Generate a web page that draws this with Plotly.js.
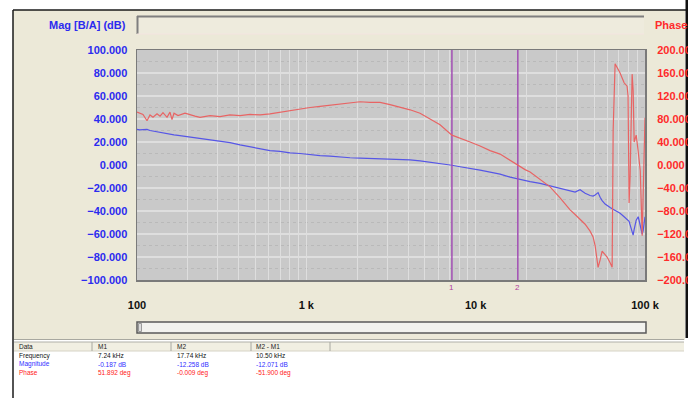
<!DOCTYPE html>
<html>
<head>
<meta charset="utf-8">
<script src="https://cdn.plot.ly/plotly-3.0.1.min.js"></script>
<style>html,body{margin:0;padding:0;background:#fff;}#chart{width:688px;height:398px;}</style>
</head>
<body>
<div id="chart"></div>
<script>
// ---- data ----
const freqHz = [100,104,108.5,114.6,119.3,124.3,131.3,136.8,142.4,150.4,
  156.6,160.9,165.4,174.6,192.1,220,235.6,270,309,354,
  406,465,533,610,699,801,918,1052,1205,1380,
  1581,1812,2076,2378,2724,3121,3575,4097,4694,5378,
  6161,7240,8090,9267,10617,12164,13936,15966,17740,19580,
  20960,24010,27510,31510,36110,38650,41360,44290,47390,49370,
  50730,52840,54330,55820,58130,59700,62230,63970,64860,66590,
  71270,75270,78400,79430,80540,81660,83950,85110,86300,88720,
  91200,93760,96250,97510,100000];
const magDb = [31,30.5,30.8,31,30,29.5,28.5,28,27.5,27,
  26.8,26.5,26.2,25.8,25,23.5,23,22,21,19.5,
  17.5,16,14.5,12.5,11.8,10.5,10,8.8,8.2,7.8,
  6.8,6.3,6,5.8,5.5,5.5,5,4.5,3.5,2.5,
  1,-0.19,-1.5,-2.8,-4.5,-6.2,-8,-10.5,-12.26,-13.5,
  -14.5,-16,-18,-20,-22.5,-23.5,-21.5,-24.5,-26.5,-27,
  -26,-24,-28,-31,-34,-35.5,-37,-38,-38.5,-39.5,
  -42,-45,-47.5,-48,-49,-52,-58,-61,-56,-48,
  -45,-53,-60,-57,-45];
const phaseDeg = [92,90,88,77,87,83,89,85,91,83,
  92,79,90,86,90,85,83,86,84,87,
  86,88,87,89,92,94,97,100,102,104,
  106,108,110,109,109,105,101,96,90,80,
  70,51.89,46,40,33,25,19,8,-0.01,-8,
  -12,-25,-38,-57,-78,-86,-95,-103,-115,-125,
  -140,-178,-165,-150,-156,-160,-170,-178,60,176,
  160,143,137,120,-66,-20,158,130,40,52,
  23,-10,-123,-40,82];
const markerFreqs = [7240, 17740];
const markerNames = ['1', '2'];
const xTickVals = [100,200,300,400,500,600,700,800,900,1000,2000,3000,4000,5000,6000,7000,8000,9000,
  10000,20000,30000,40000,50000,60000,70000,80000,90000,100000];
const xTickText = ['100','','','','','','','','','1 k','','','','','','','','','10 k','','','','','','','','','100 k'];
const magAxisTitle = 'Mag [B/A] (dB)';
const phaseAxisTitle = 'Phase';
const tableHeader = ['Data', 'M1', 'M2', 'M2 - M1'];
const rowFrequency = ['Frequency', '7.24 kHz', '17.74 kHz', '10.50 kHz'];
const rowMagnitude = ['Magnitude', '-0.187 dB', '-12.258 dB', '-12.071 dB'];
const rowPhase = ['Phase', '51.892 deg', '-0.009 deg', '-51.900 deg'];

// ---- layout geometry (pixels) ----
const L = 137, R = 645, T = 50, B = 280, W = 688, H = 398;
const px = p => (p - L) / (R - L);
const py = p => (B - p) / (B - T);
const FONT = 'Liberation Sans, Arial, sans-serif';
const BLUE = '#2b2bef', RED = '#ff2b2b';

function rect(x0, y0, x1, y1, fill, line, lw) {
  return {type:'rect', xref:'paper', yref:'paper', layer:'below',
    x0:px(x0), x1:px(x1), y0:py(y1), y1:py(y0),
    fillcolor:fill, line:{color:line||'rgba(0,0,0,0)', width:lw||0}};
}
function seg(x0, y0, x1, y1, color, w) {
  return {type:'line', xref:'paper', yref:'paper', layer:'below',
    x0:px(x0), x1:px(x1), y0:py(y0), y1:py(y1), line:{color:color, width:w}};
}

const shapes = [
  rect(13, 10, 685, 340, '#ECE9D8'),
  {type:'rect', xref:'paper', yref:'paper', layer:'below', x0:0, x1:1, y0:0, y1:1, fillcolor:'#C9C9C9', line:{width:0}},
  // top text box (inset)
  rect(137, 16, 644, 34, '#EEEBDD'),
  seg(137, 16.5, 644, 16.5, '#7f7f7f', 2),
  seg(137.5, 16, 137.5, 34, '#7f7f7f', 2),
  seg(137, 34, 644, 34, '#f4e4e0', 1),
  // scrollbar
  rect(137, 322, 646, 333, '#F2F2EE', '#5a5a5a', 1.5),
  rect(138.5, 323.5, 141.5, 331.5, '#dcdcdc', '#9a9a9a', 1),
  // table header
  rect(14, 342, 684, 351, '#F1EFE2'),
  seg(14, 339.5, 684, 339.5, '#a8a8a0', 1),
  seg(14, 342, 684, 342, '#b0b0a8', 1),
  seg(14, 351, 684, 351, '#d6d3c6', 1),
  seg(92, 342, 92, 351, '#a8a8a0', 1),
  seg(171, 342, 171, 351, '#a8a8a0', 1),
  seg(251, 342, 251, 351, '#a8a8a0', 1),
  seg(330, 342, 330, 351, '#a8a8a0', 1),
  // window borders
  seg(13, 10, 688, 10, '#1a1a1a', 1.5),
  seg(13, 10, 13, 398, '#1a1a1a', 1.5),
  rect(685.5, 0, 688, 338, '#111111')
];

const annotations = [
  {xref:'paper', yref:'paper', x:px(128), y:py(25), xanchor:'right', yanchor:'middle', showarrow:false,
    text:magAxisTitle, font:{family:FONT, size:11, color:BLUE, weight:'bold'}},
  {xref:'paper', yref:'paper', x:px(653), y:py(25), xanchor:'left', yanchor:'middle', showarrow:false,
    text:phaseAxisTitle, font:{family:FONT, size:11, color:RED, weight:'bold'}}
];
// marker labels under the plot (log axis: annotation x is log10 of the value)
markerFreqs.forEach((f, i) => {
  annotations.push({xref:'x', yref:'paper', x:Math.log10(f), y:py(287), xanchor:'center', yanchor:'middle',
    showarrow:false, text:markerNames[i], font:{family:FONT, size:8, color:'#b03c9c'}});
});
const colX = [17, 96, 175, 254];
const rows = [[tableHeader, 346.5, '#222'], [rowFrequency, 356, '#111'], [rowMagnitude, 364, '#3030ff'], [rowPhase, 372.5, '#ff2020']];
rows.forEach(([cells, y, color]) => {
  cells.forEach((t, i) => {
    annotations.push({xref:'paper', yref:'paper', x:px(colX[i]), y:py(y), xanchor:'left', yanchor:'middle',
      showarrow:false, text:t, font:{family:FONT, size:6.5, color:color}});
  });
});

const traces = [
  {x:freqHz, y:phaseDeg, yaxis:'y2', type:'scatter', mode:'lines', line:{color:'#e86464', width:1.2}, hoverinfo:'skip'},
  {x:freqHz, y:magDb, type:'scatter', mode:'lines', line:{color:'#5656e6', width:1.2}, hoverinfo:'skip'}
];
markerFreqs.forEach((f) => {
  traces.push({x:[f, f], y:[-100, 100], type:'scatter', mode:'lines', line:{color:'#a24fb4', width:1.5}, hoverinfo:'skip'});
});

const layout = {
  width:W, height:H, showlegend:false,
  margin:{l:L, r:W - R, t:T, b:H - B, pad:0},
  paper_bgcolor:'#ffffff', plot_bgcolor:'rgba(0,0,0,0)',
  xaxis:{type:'log', range:[2, 5], tickvals:xTickVals, ticktext:xTickText,
    ticks:'outside', ticklen:14, tickcolor:'rgba(0,0,0,0)',
    tickfont:{family:FONT, size:11, color:'#111', weight:'bold'},
    showgrid:true, gridcolor:'#dedede', gridwidth:1,
    showline:true, mirror:true, linecolor:'#7a7a7a', linewidth:1.5, zeroline:false, fixedrange:true},
  yaxis:{range:[-100, 100], dtick:20, tick0:-100, tickformat:'.3f',
    ticks:'outside', ticklen:6, tickcolor:'rgba(0,0,0,0)',
    tickfont:{family:FONT, size:11, color:BLUE, weight:'bold'},
    showgrid:true, gridcolor:'#dedede', gridwidth:1.5,
    minor:{dtick:10, showgrid:true, gridcolor:'#b9b9b9', griddash:'dot', gridwidth:1},
    showline:true, mirror:true, linecolor:'#7a7a7a', linewidth:1.5, zeroline:false, fixedrange:true},
  yaxis2:{range:[-200, 200], dtick:40, tick0:-200, tickformat:'.3f', overlaying:'y', side:'right',
    ticks:'outside', ticklen:9, tickcolor:'rgba(0,0,0,0)',
    tickfont:{family:FONT, size:11, color:RED, weight:'bold'},
    showgrid:false, zeroline:false, fixedrange:true},
  shapes:shapes, annotations:annotations
};

Plotly.newPlot('chart', traces, layout, {staticPlot:true, displayModeBar:false});
</script>
</body>
</html>
